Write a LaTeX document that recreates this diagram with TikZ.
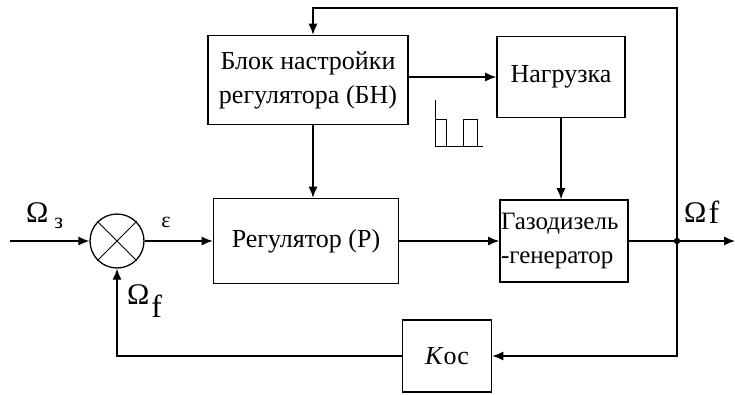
\documentclass[tikz,border=0pt]{standalone}
\usepackage{fontspec}
\setmainfont{Liberation Serif}
\newfontfamily\monofont{Liberation Mono}
\usetikzlibrary{arrows.meta,calc}
\begin{document}
\begin{tikzpicture}[x=1pt,y=-1pt,
  box/.style={draw,line width=1.6pt,inner sep=0pt,font=\fontsize{26}{34}\selectfont},
  conn/.style={line width=1.3pt,-{Latex[length=11pt,width=9pt]}},
  lbl/.style={font=\fontsize{30}{30}\selectfont,inner sep=0pt}]
\useasboundingbox (0,0) rectangle (735,394);
% blocks
\node[box,minimum width=200pt,minimum height=89pt,align=center] (bn) at (308,80) {Блок настройки\\регулятора (БН)};
\node[box,minimum width=128pt,minimum height=81pt] (load) at (561,77) {Нагрузка};
\node[box,minimum width=185pt,minimum height=85pt] (reg) at (306,241) {Регулятор (Р)};
\node[box,minimum width=128pt,minimum height=82pt,text width=126pt,align=left,font=\fontsize{25}{34}\selectfont] (gen) at (564,241) {Газодизель\\-генератор};
\node[box,minimum width=89pt,minimum height=72pt] (koc) at (447,356) {\textit{К}ос};
\node[draw,line width=1.3pt,circle,minimum size=54pt,inner sep=0pt] (sum) at (117,241) {};
\draw[line width=1pt] (sum.45) -- (sum.225) (sum.135) -- (sum.315);
% coordinates
\coordinate (in) at (10,241);
\coordinate (out) at (735,241);
\coordinate (j) at (677,241);
\coordinate (tr) at (677,8);
\coordinate (br) at (677,356);
\coordinate (tl) at (313,8);
\coordinate (bl) at (117,356);
% connectors
\draw[conn] (in) -- (sum.west);
\draw[conn] (sum.east) -- (reg.west);
\draw[conn] (reg.east) -- (gen.west);
\draw[conn] (gen.east) -- (out);
\draw[conn] (bn.east |- load.west) -- (load.west);
\draw[conn] (load.south) -- (load.south |- gen.north);
\draw[conn] (tl |- bn.south) -- (tl |- reg.north);
\draw[conn] (j) -- (tr) -- (tl) -- (tl |- bn.north);
\draw[conn] (j) -- (br) -- (koc.east);
\draw[conn] (koc.west) -- (bl) -- (sum.south);
\fill (j) circle (3.2pt);
% pulse
\draw[line width=1pt] (435,100) -- (435,146) -- (483,146);
\draw[line width=1pt] (435,119) -- (446,119) -- (446,146);
\draw[line width=1pt] (463,146) -- (463,119) -- (477,119) -- (477,146);
% labels
\node[lbl,anchor=base west] (lz) at (26,222) {Ω\hspace{6pt}\raisebox{-6pt}{\fontsize{22}{22}\selectfont з}};
\node[font=\fontsize{22}{22}\selectfont,anchor=base] (le) at (166,227) {ε};
\node[lbl,anchor=base west] (lf1) at (127,304) {Ω\hspace{2pt}\raisebox{-13pt}{\fontsize{32}{32}\selectfont f}};
\node[lbl,anchor=base west] (lf2) at (684,222) {Ω\hspace{2pt}\raisebox{-1pt}{\fontsize{32}{32}\selectfont f}};
\end{tikzpicture}
\end{document}
